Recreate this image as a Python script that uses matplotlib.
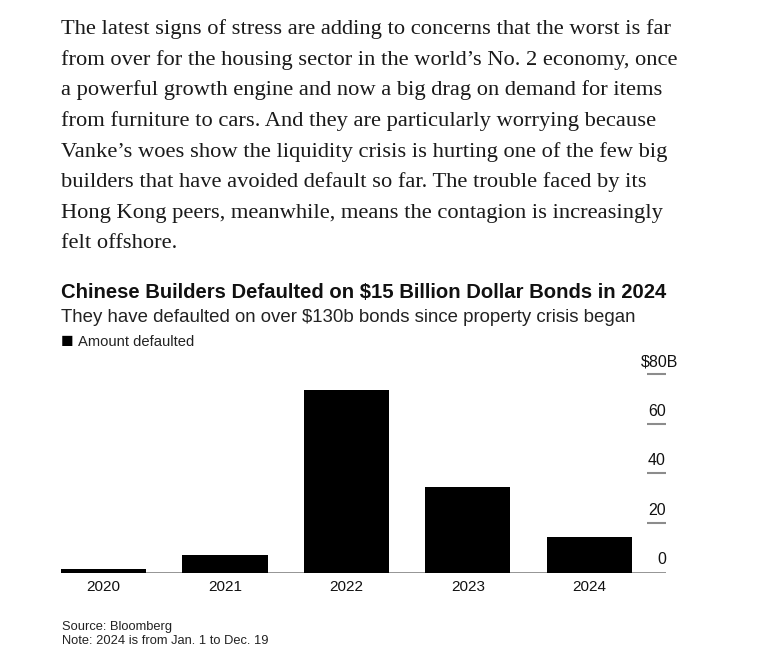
import matplotlib
matplotlib.use("Agg")
import matplotlib.pyplot as plt
from matplotlib.transforms import offset_copy

# data ($ billions)
years = ["2020", "2021", "2022", "2023", "2024"]
defaulted = [1.5, 7.2, 73.8, 34.5, 14.5]
ytick_vals = [0, 20, 40, 60, 80]
ytick_labels = ["0", "20", "40", "60", "$80B"]

paragraph = [
    "The latest signs of stress are adding to concerns that the worst is far",
    "from over for the housing sector in the world\u2019s No. 2 economy, once",
    "a powerful growth engine and now a big drag on demand for items",
    "from furniture to cars. And they are particularly worrying because",
    "Vanke\u2019s woes show the liquidity crisis is hurting one of the few big",
    "builders that have avoided default so far. The trouble faced by its",
    "Hong Kong peers, meanwhile, means the contagion is increasingly",
    "felt offshore.",
]

W, H = 779, 668
fig = plt.figure(figsize=(W / 100, H / 100), dpi=100)
plt.rcParams["font.family"] = ["Liberation Sans", "DejaVu Sans"]

def fx(px):
    return px / W

def fy(py):
    return 1 - py / H

# body text above the chart
for i, line in enumerate(paragraph):
    fig.text(fx(61), fy(29 + i * 30.7), line, family=["Liberation Serif", "DejaVu Serif"],
             fontsize=16.2, color="#1a1a1a", va="center", ha="left")

fig.text(fx(61), fy(292), "Chinese Builders Defaulted on $15 Billion Dollar Bonds in 2024",
         fontsize=14.55, fontweight="bold", color="#111111", va="center")
fig.text(fx(61), fy(317), "They have defaulted on over $130b bonds since property crisis began",
         fontsize=13.4, color="#222222", va="center")
fig.text(fx(60.5), fy(342), "\u25A0", fontsize=15, color="black", va="center")
fig.text(fx(78), fy(342), "Amount defaulted", fontsize=10.6, color="#222222", va="center")

# chart area
ax = fig.add_axes([fx(61), fy(572.5), fx(666) - fx(61), (572.5 - 374.3) / H])
x = list(range(len(years)))
ax.bar(x, defaulted, width=0.70, color="black", zorder=3)
ax.set_xlim(-0.35, 4.63)
ax.set_ylim(0, 80)

for s in ax.spines.values():
    s.set_visible(False)
ax.axhline(0, color="#8c8c8c", lw=1.3, zorder=2)

ax.set_xticks(x)
ax.set_xticklabels(years, fontsize=11, color="#111111")
ax.tick_params(axis="x", length=0, pad=5.5)
ax.set_yticks([])

# right-side value labels sitting above short tick lines
ytr = ax.get_yaxis_transform()
lab_tr = offset_copy(ytr, fig=fig, y=8, units="dots")
for v, lab in zip(ytick_vals, ytick_labels):
    if v > 0:
        ax.plot([0.9686, 1.0], [v, v], transform=ytr, color="#8c8c8c", lw=1.5,
                clip_on=False, solid_capstyle="butt")
    xpos = 1.0198 if lab.startswith("$") else 1.0
    ax.text(xpos, v, lab, transform=lab_tr, ha="right", va="baseline",
            fontsize=11.5, color="#111111")

fig.text(fx(62), fy(627), "Source: Bloomberg", fontsize=9.3, color="#222222", va="center")
fig.text(fx(62), fy(641), "Note: 2024 is from Jan. 1 to Dec. 19", fontsize=9.3, color="#222222", va="center")

fig.savefig("out.png", dpi=100, facecolor="white")
